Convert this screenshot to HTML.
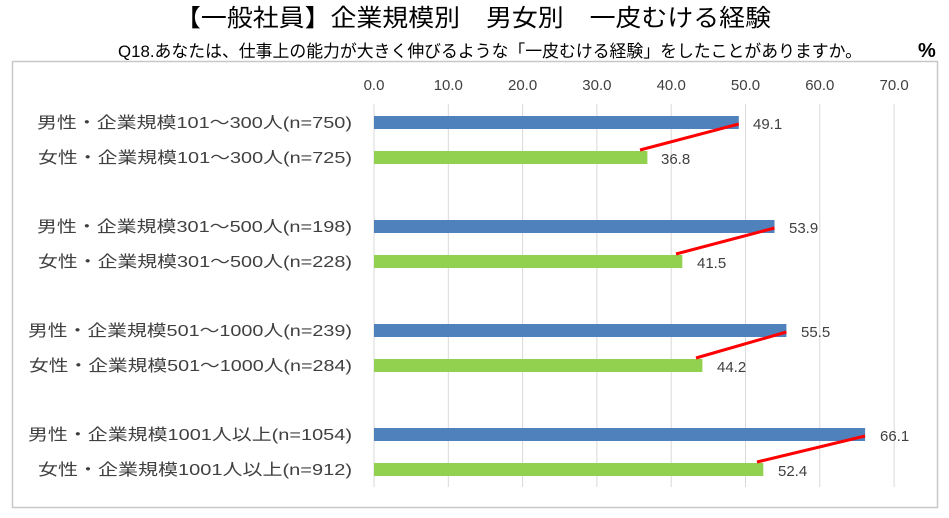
<!DOCTYPE html>
<html><head><meta charset="utf-8"><style>
body{margin:0;background:#fff;width:949px;height:513px;overflow:hidden}
</style></head><body>
<svg width="949" height="513" xmlns="http://www.w3.org/2000/svg" font-family="'Liberation Sans','Noto Sans CJK JP',sans-serif">
<text x="175" y="26" font-size="24" textLength="596" lengthAdjust="spacingAndGlyphs" fill="#000">【一般社員】企業規模別　男女別　一皮むける経験</text>
<text x="118" y="57" font-size="17" textLength="744" lengthAdjust="spacingAndGlyphs" fill="#000">Q18.あなたは、仕事上の能力が大きく伸びるような「一皮むける経験」をしたことがありますか。</text>
<text x="918" y="57" font-size="20" font-weight="bold" fill="#000">%</text>
<rect x="12.5" y="61.5" width="925" height="446" fill="none" stroke="#c8c8c8" stroke-width="1.5"/>
<g stroke="#d9d9d9" stroke-width="1">
<line x1="374" y1="104" x2="374" y2="487"/><line x1="448.3" y1="104" x2="448.3" y2="487"/><line x1="522.6" y1="104" x2="522.6" y2="487"/><line x1="596.9" y1="104" x2="596.9" y2="487"/><line x1="671.2" y1="104" x2="671.2" y2="487"/><line x1="745.5" y1="104" x2="745.5" y2="487"/><line x1="819.8" y1="104" x2="819.8" y2="487"/><line x1="894.1" y1="104" x2="894.1" y2="487"/>
</g>
<g font-size="15" fill="#404040" text-anchor="middle">
<text x="374" y="90">0.0</text><text x="448.3" y="90">10.0</text><text x="522.6" y="90">20.0</text><text x="596.9" y="90">30.0</text><text x="671.2" y="90">40.0</text><text x="745.5" y="90">50.0</text><text x="819.8" y="90">60.0</text><text x="894.1" y="90">70.0</text>
</g>
<g font-size="16" fill="#404040" lengthAdjust="spacingAndGlyphs">
<text x="37" y="128" textLength="315" lengthAdjust="spacingAndGlyphs">男性・企業規模101～300人(n=750)</text>
<text x="38" y="163" textLength="314" lengthAdjust="spacingAndGlyphs">女性・企業規模101～300人(n=725)</text>
<text x="37" y="232" textLength="315" lengthAdjust="spacingAndGlyphs">男性・企業規模301～500人(n=198)</text>
<text x="38" y="267" textLength="314" lengthAdjust="spacingAndGlyphs">女性・企業規模301～500人(n=228)</text>
<text x="28" y="336" textLength="324" lengthAdjust="spacingAndGlyphs">男性・企業規模501～1000人(n=239)</text>
<text x="29" y="371" textLength="323" lengthAdjust="spacingAndGlyphs">女性・企業規模501～1000人(n=284)</text>
<text x="28" y="440" textLength="324" lengthAdjust="spacingAndGlyphs">男性・企業規模1001人以上(n=1054)</text>
<text x="38" y="475" textLength="314" lengthAdjust="spacingAndGlyphs">女性・企業規模1001人以上(n=912)</text>
</g>
<g fill="#4f81bd">
<rect x="374" y="116" width="364.8" height="13"/><rect x="374" y="220" width="400.5" height="13"/><rect x="374" y="324" width="412.4" height="13"/><rect x="374" y="428" width="491.1" height="13"/>
</g>
<g fill="#92d050">
<rect x="374" y="151" width="273.4" height="13"/><rect x="374" y="255" width="308.3" height="13"/><rect x="374" y="359" width="328.4" height="13"/><rect x="374" y="463" width="389.3" height="13"/>
</g>
<g stroke="#ff0000" stroke-width="3">
<line x1="738.8" y1="124" x2="640" y2="150"/><line x1="774.5" y1="228" x2="676" y2="254"/><line x1="786.4" y1="332" x2="696" y2="358"/><line x1="865.1" y1="436" x2="757" y2="462"/>
</g>
<g font-size="15" fill="#404040">
<text x="753" y="129">49.1</text><text x="661" y="164">36.8</text>
<text x="789" y="233">53.9</text><text x="697" y="268">41.5</text>
<text x="801" y="337">55.5</text><text x="717" y="372">44.2</text>
<text x="880" y="441">66.1</text><text x="778" y="476">52.4</text>
</g>
</svg>
</body></html>
